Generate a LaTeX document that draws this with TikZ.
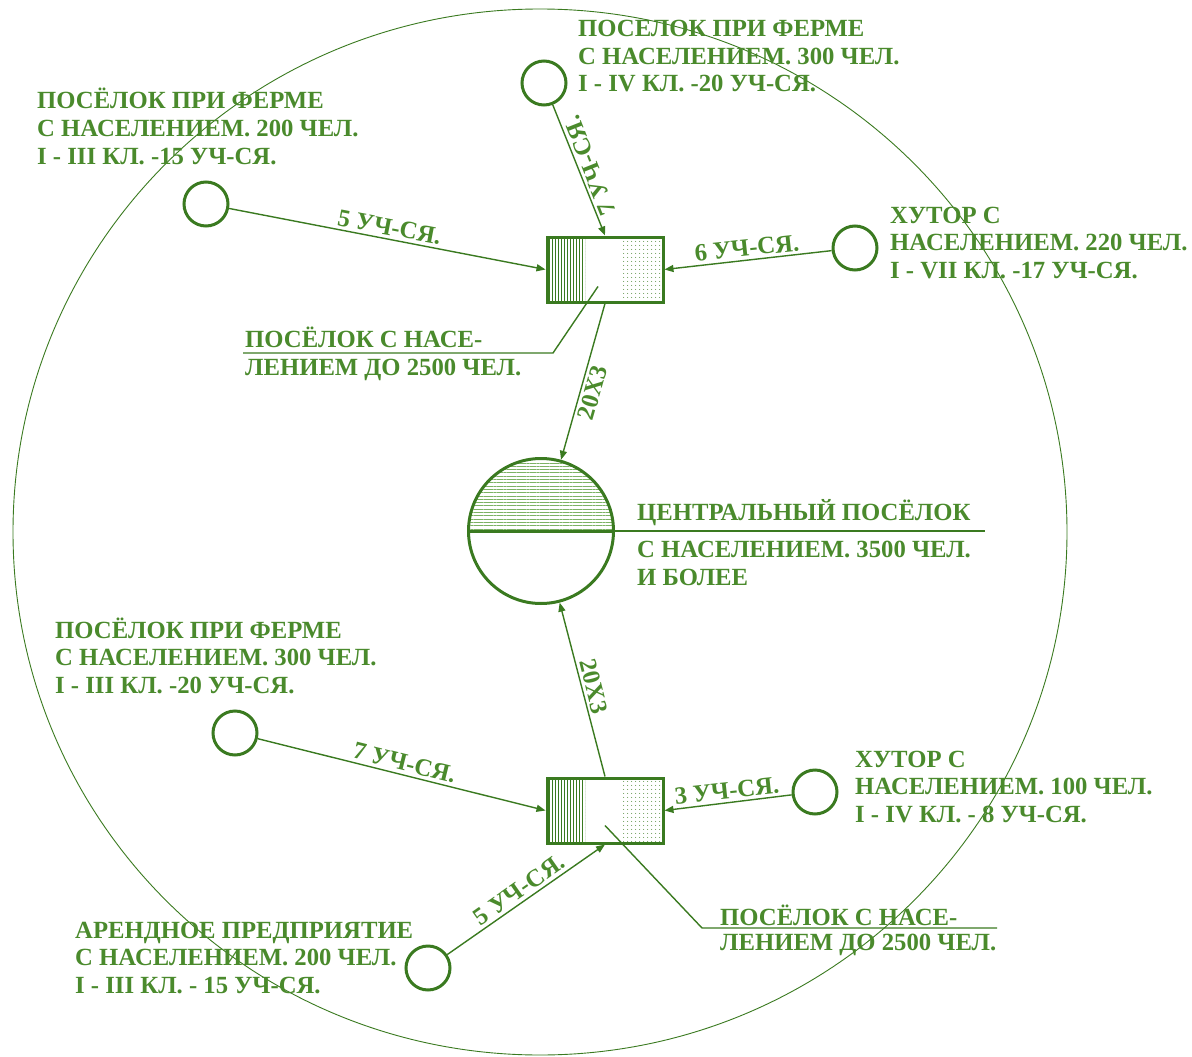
\documentclass[tikz,border=0pt]{standalone}
\usepackage{fontspec}
\setmainfont{Liberation Serif}
\usepackage{tikz}
\usetikzlibrary{positioning,arrows.meta,calc,patterns.meta}
\definecolor{ink}{RGB}{58,122,32}
\definecolor{txt}{RGB}{74,138,44}
\definecolor{hatch}{RGB}{125,178,100}

\begin{document}
\begin{tikzpicture}[x=1pt,y=-1pt,
  every node/.style={font=\fontsize{24.7}{27.5}\selectfont\bfseries, text=txt},
  vill/.style={draw=ink, circle, line width=3pt, minimum size=44pt, inner sep=0pt},
  hub/.style={draw=ink, line width=3pt, minimum width=116pt, minimum height=65pt, inner sep=0pt,
    path picture={
      \fill[pattern={Lines[angle=90,distance=3pt,line width=0.8pt]}, pattern color=ink]
        (path picture bounding box.north west) rectangle ++(38,65);
      \fill[pattern={Dots[distance=4pt,radius=0.6pt]}, pattern color=ink]
        (path picture bounding box.south east) rectangle ++(-41,-65);
    }},
  link/.style={draw=ink, line width=1.4pt, -{Triangle[length=9pt,width=7pt]}},
  lead/.style={draw=ink, line width=1.4pt},
  info/.style={align=left, anchor=base west, inner sep=0pt},
  dist/.style={inner sep=3pt}]
\useasboundingbox (0,0) rectangle (1192,1057);

% Boundary of the farm
\draw[ink, line width=0.9pt] (540,532) ellipse [x radius=527, y radius=523];

% Central settlement
\node[draw=ink, circle, line width=3pt, minimum size=145pt, inner sep=0pt,
  path picture={\fill[pattern={Lines[angle=0,distance=3.3pt,line width=0.9pt]}, pattern color=hatch]
    (path picture bounding box.north west) rectangle (path picture bounding box.east);}]
  (centre) at (541,531) {};
\draw[ink, line width=3pt] (centre.west) -- (centre.east);
\draw[lead, line width=2pt] (centre.east) -- ++(370,0) coordinate (centreEnd);
\node[info] (centreTxtA) at (637,520) {ЦЕНТРАЛЬНЫЙ ПОСЁЛОК};
\node[info] (centreTxtB) at (637,585) {С НАСЕЛЕНИЕМ. 3500 ЧЕЛ.\\И БОЛЕЕ};

% Settlements up to 2500
\node[hub] (hubN) at (605,269.5) {};
\node[hub] (hubS) at (605,810.5) {};

% Farms and hamlets
\node[vill] (farmA) at (206,204) {};
\node[vill] (farmB) at (544,83) {};
\node[vill] (khutA) at (855,248) {};
\node[vill] (farmC) at (235,733) {};
\node[vill] (khutB) at (815,792) {};
\node[vill] (arenda) at (428,968) {};

% Their captions (anchored at the last line)
\node[info] (farmATxt) at (37,164) {ПОСЁЛОК ПРИ ФЕРМЕ\\С НАСЕЛЕНИЕМ. 200 ЧЕЛ.\\I - III КЛ. -15 УЧ-СЯ.};
\node[info] (farmBTxt) at (578,92) {ПОСЕЛОК ПРИ ФЕРМЕ\\С НАСЕЛЕНИЕМ. 300 ЧЕЛ.\\I - IV КЛ. -20 УЧ-СЯ.};
\node[info] (khutATxt) at (890,278) {ХУТОР С\\НАСЕЛЕНИЕМ. 220 ЧЕЛ.\\I - VII КЛ. -17 УЧ-СЯ.};
\node[info] (farmCTxt) at (55,693) {ПОСЁЛОК ПРИ ФЕРМЕ\\С НАСЕЛЕНИЕМ. 300 ЧЕЛ.\\I - III КЛ. -20 УЧ-СЯ.};
\node[info] (khutBTxt) at (855,822) {ХУТОР С\\НАСЕЛЕНИЕМ. 100 ЧЕЛ.\\I - IV КЛ. - 8 УЧ-СЯ.};
\node[info] (arendaTxt) at (75,993) {АРЕНДНОЕ ПРЕДПРИЯТИЕ\\С НАСЕЛЕНИЕМ. 200 ЧЕЛ.\\I - III КЛ. - 15 УЧ-СЯ.};

% Pupils carried
\draw[link] (farmA) -- (hubN.west) node[dist, midway, above, rotate=-10.8] {5 УЧ-СЯ.};
\draw[link] (farmB) -- (hubN.north) node[dist, midway, below, rotate=111.6] {7 УЧ-СЯ.};
\draw[link] (khutA) -- (hubN.east) node[dist, midway, above, rotate=6] {6 УЧ-СЯ.};
\draw[link] (hubN.south) -- (centre) node[dist, pos=0.55, below, rotate=74] {20Х3};
\draw[link] (hubS.north) -- (centre) node[dist, midway, above, rotate=-76] {20Х3};
\draw[link] (farmC) -- (hubS.west) node[dist, midway, above, rotate=-14] {7 УЧ-СЯ.};
\draw[link] (khutB) -- (hubS.east) node[dist, midway, above, rotate=6] {3 УЧ-СЯ.};
\draw[link] (arenda) -- (hubS.south) node[dist, midway, above, rotate=35] {5 УЧ-СЯ.};

% Leaders
\draw[lead] ($(hubN.center)+(-7,17)$) -- (553,353) -- (243,353) coordinate (leadN);
\node[info] (hubNTxtA) at (245,347) {ПОСЁЛОК С НАСЕ-};
\node[info] (hubNTxtB) at (245,375) {ЛЕНИЕМ ДО 2500 ЧЕЛ.};
\draw[lead] ($(hubS.center)+(0,15)$) -- (702,928) -- (997,928) coordinate (leadS);
\node[info] (hubSTxtA) at (720,925) {ПОСЁЛОК С НАСЕ-};
\node[info] (hubSTxtB) at (720,950) {ЛЕНИЕМ ДО 2500 ЧЕЛ.};
\end{tikzpicture}
\end{document}
